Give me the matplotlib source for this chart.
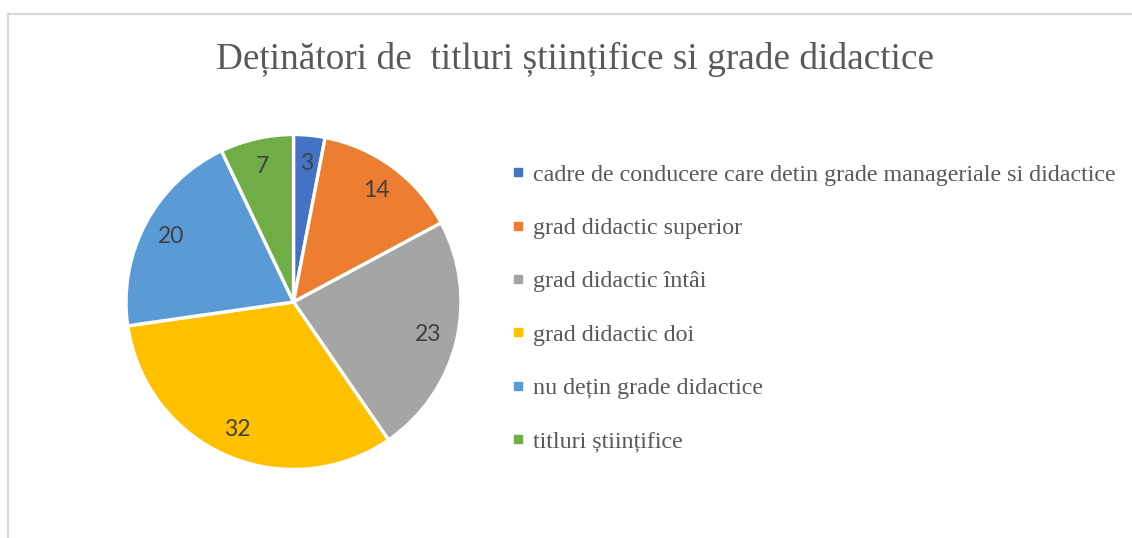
import matplotlib
matplotlib.use("Agg")
import matplotlib.pyplot as plt
from matplotlib.lines import Line2D

# ---- data ----
title = "Deținători de  titluri științifice si grade didactice"
categories = [
    "cadre de conducere care detin grade manageriale si didactice",
    "grad didactic superior",
    "grad didactic întâi",
    "grad didactic doi",
    "nu dețin grade didactice",
    "titluri științifice",
]
values = [3, 14, 23, 32, 20, 7]
colors = ["#4472C4", "#ED7D31", "#A5A5A5", "#FFC000", "#5B9BD5", "#70AD47"]

W, H, DPI = 1132, 538, 100
fig = plt.figure(figsize=(W / DPI, H / DPI), dpi=DPI)
fig.patch.set_facecolor("white")

# chart border (top and left visible)
gray = "#D9D9D9"
fig.add_artist(Line2D([8 / W, 1131 / W], [1 - 14 / H, 1 - 14 / H], color=gray, lw=1.6,
                      transform=fig.transFigure))
fig.add_artist(Line2D([8 / W, 8 / W], [0, 1 - 14 / H], color=gray, lw=1.6,
                      transform=fig.transFigure))

# pie axes: center (293.5, 302) radius 167.5 px
cx, cy, r = 293.5, 302.0, 167.5
ax = fig.add_axes([(cx - r) / W, (H - cy - r) / H, 2 * r / W, 2 * r / H])
total = sum(values)
wedges, texts, autotexts = ax.pie(
    values, colors=colors, startangle=90, counterclock=False,
    wedgeprops=dict(edgecolor="white", linewidth=2.4),
    autopct=lambda p: f"{p * total / 100:.0f}", pctdistance=0.83,
    textprops=dict(color="#404040", fontsize=16.5, family="Lato"),
)
ax.set_xlim(-1, 1)
ax.set_ylim(-1, 1)
ax.set_aspect("equal")
ax.axis("off")

# title, fitted to reference width (716 px)
t = fig.text(575 / W, 1 - 59 / H, title, ha="center", va="center",
             family="Liberation Serif", color="#595959", fontsize=30)
fig.canvas.draw()
wpx = t.get_window_extent().width
t.set_fontsize(30 * 716 / wpx)

# legend
handles = [Line2D([], [], marker="s", linestyle="none", markersize=5.8,
                  markerfacecolor=c, markeredgecolor=c) for c in colors]
leg = fig.legend(handles, categories, loc="upper left",
                 bbox_to_anchor=(511 / W, 1 - 164 / H),
                 frameon=False, handlelength=0.6, handletextpad=0.3,
                 borderpad=0, borderaxespad=0,
                 prop=dict(family="Liberation Serif", size=17.3),
                 labelspacing=1.31)
for txt in leg.get_texts():
    txt.set_color("#595959")

fig.savefig("out.png", dpi=DPI, facecolor="white")
